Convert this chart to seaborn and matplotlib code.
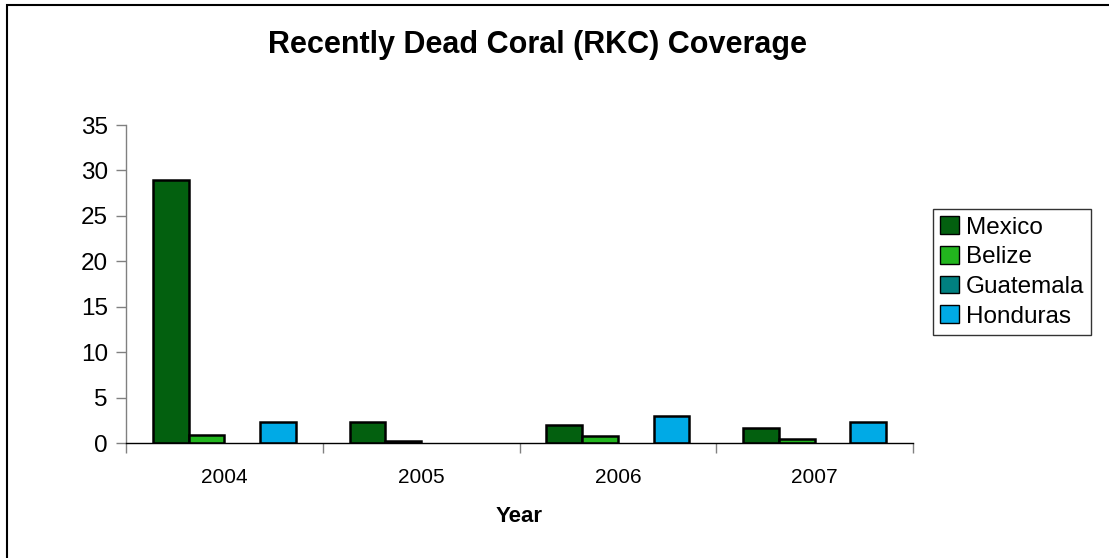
import matplotlib
matplotlib.use("Agg")
import matplotlib.pyplot as plt
import matplotlib.patches as mpatches
import seaborn as sns
import pandas as pd

years = ["2004", "2005", "2006", "2007"]
countries = ["Mexico", "Belize", "Guatemala", "Honduras"]
mexico = [29.0, 2.35, 1.95, 1.6]
belize = [0.9, 0.25, 0.75, 0.45]
guatemala = [0.0, 0.0, 0.0, 0.0]
honduras = [2.3, 0.0, 3.0, 2.3]
colors = ["#03600F", "#22B51E", "#008080", "#00AAE6"]

sns.set_theme(style="white")
plt.rcParams['font.family'] = ['Liberation Sans', 'DejaVu Sans']
plt.rcParams['text.color'] = 'black'
plt.rcParams['xtick.color'] = 'black'
plt.rcParams['ytick.color'] = 'black'

rows = []
for c, vals in zip(countries, [mexico, belize, guatemala, honduras]):
    for y, v in zip(years, vals):
        rows.append({"Year": y, "Country": c, "Value": v})
df = pd.DataFrame(rows)

fig = plt.figure(figsize=(11.09, 5.58), dpi=100)
ax = fig.add_axes([126/1109, 1-443/558, (913-126)/1109, (443-125)/558])

sns.barplot(data=df, x="Year", y="Value", hue="Country", order=years,
            hue_order=countries, palette=colors, width=4/5.5,
            edgecolor="black", linewidth=1.8, saturation=1, errorbar=None,
            ax=ax, legend=True)

for p in ax.patches:
    if isinstance(p, mpatches.Rectangle) and p.get_height() == 0:
        p.set_linewidth(0)

ax.set_xlim(-0.5, 3.5)
ax.set_ylim(0, 35)
ax.set_yticks(range(0, 36, 5))
ax.tick_params(axis='y', labelsize=17.5, length=7, width=1, color="#808080",
               left=True, direction='out', pad=6, labelcolor="black")
ax.tick_params(axis='x', which='major', labelsize=15, length=0, pad=18,
               labelcolor="black")
ax.set_xticks([-0.5, 0.5, 1.5, 2.5, 3.5], minor=True)
ax.tick_params(axis='x', which='minor', length=7, width=1, color="#808080",
               bottom=True, direction='out')
for s in ["top", "right"]:
    ax.spines[s].set_visible(False)
ax.spines["left"].set_color("#808080")
ax.spines["left"].set_linewidth(1)
ax.spines["bottom"].set_color("black")
ax.spines["bottom"].set_linewidth(1)
ax.set_ylabel("")
ax.set_xlabel("Year", fontsize=16, fontweight="bold", labelpad=14,
              color="black")

leg = ax.legend(loc="upper left", bbox_to_anchor=(933/1109, 1-209/558),
                bbox_transform=fig.transFigure, frameon=True, fancybox=False,
                fontsize=17.5, handlelength=0.75, handleheight=0.75,
                handletextpad=0.3, borderpad=0.3, labelspacing=0.3,
                borderaxespad=0)
leg.get_frame().set_edgecolor("black")
leg.get_frame().set_linewidth(1)
for t in leg.get_texts():
    t.set_color("black")
for h in leg.legend_handles:
    h.set_edgecolor("black")
    h.set_linewidth(1)

fig.text(537/1109, 1-45/558, "Recently Dead Coral (RKC) Coverage",
         ha="center", va="center", fontsize=22, fontweight="bold",
         color="black")

fig.patches.append(mpatches.Rectangle((7/1109, -0.05), 1.1, 1-5/558+0.05,
                                      transform=fig.transFigure, fill=False,
                                      edgecolor="black", linewidth=1.5))

fig.savefig("out.png", dpi=100)
